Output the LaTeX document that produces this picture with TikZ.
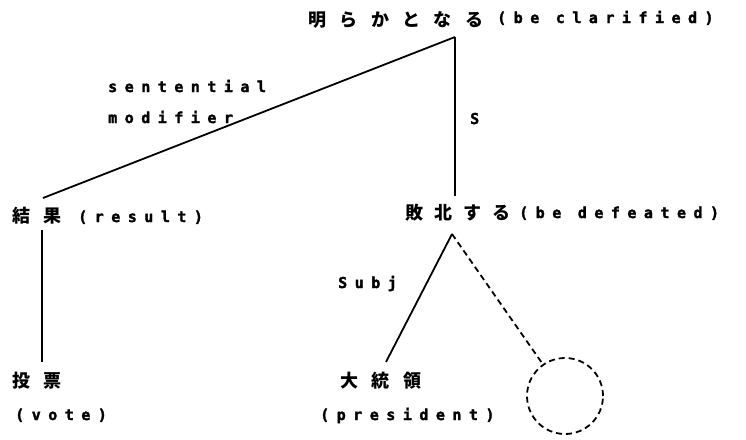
\documentclass[tikz,border=0pt]{standalone}
\usepackage{fontspec}
\newfontfamily\jpfont{Noto Sans CJK JP}[LetterSpace=75]
\newfontfamily\jpfontnarrow{Noto Sans CJK JP}[LetterSpace=61]
\newfontfamily\ltfont{DejaVu Sans Mono}[LetterSpace=50,BoldFeatures={FakeBold=2}]
\begin{document}
\begin{tikzpicture}[x=1pt,y=-1pt,
  jp/.style={anchor=base west,inner sep=0pt,font=\jpfont\bfseries\fontsize{18}{18}\selectfont},
  jpn/.style={anchor=base west,inner sep=0pt,font=\jpfontnarrow\bfseries\fontsize{18}{18}\selectfont},
  lt/.style={anchor=base west,inner sep=0pt,font=\ltfont\bfseries\fontsize{15}{15}\selectfont},
  edge/.style={line width=1.8pt},
  dedge/.style={line width=1.8pt,dash pattern=on 6pt off 4pt},
  emptynode/.style={circle,draw,dedge,minimum size=76pt,inner sep=0pt}]
\useasboundingbox (0,0) rectangle (746,439);
% texts
\node[jp] (clarJ) at (308,26) {明らかとなる};
\node[lt] (clarE) at (497,23) {(be clarified)};
\node[lt] (sent) at (108,92) {sentential};
\node[lt] (modif) at (108,123) {modifier};
\node[lt] (slab) at (470,124) {S};
\node[jp] (resJ) at (12,222) {結果};
\node[lt] (resE) at (78,222) {(result)};
\node[jpn] (defJ) at (405,219) {敗北する};
\node[lt] (defE) at (519,218) {(be defeated)};
\node[lt] (subj) at (338,288) {Subj};
\node[jp] (voteJ) at (12,387) {投票};
\node[lt] (voteE) at (15,420) {(vote)};
\node[jp] (presJ) at (340,387) {大統領};
\node[lt] (presE) at (320,420) {(president)};
\node[emptynode] (empty) at (565,396) {};
% connector end points
\coordinate (topA) at (455,37);
\coordinate (resTop) at (43,198);
\coordinate (defTop) at (455,196);
\coordinate (resBot) at (42,230);
\coordinate (voteTop) at (42,362);
\coordinate (defB) at (452,234);
\coordinate (presTop) at (386,362);
% connectors
\draw[edge] (topA) -- (resTop);
\draw[edge] (topA) -- (defTop);
\draw[edge] (resBot) -- (voteTop);
\draw[edge] (defB) -- (presTop);
\draw[dedge] (defB) -- (empty);
\end{tikzpicture}
\end{document}
